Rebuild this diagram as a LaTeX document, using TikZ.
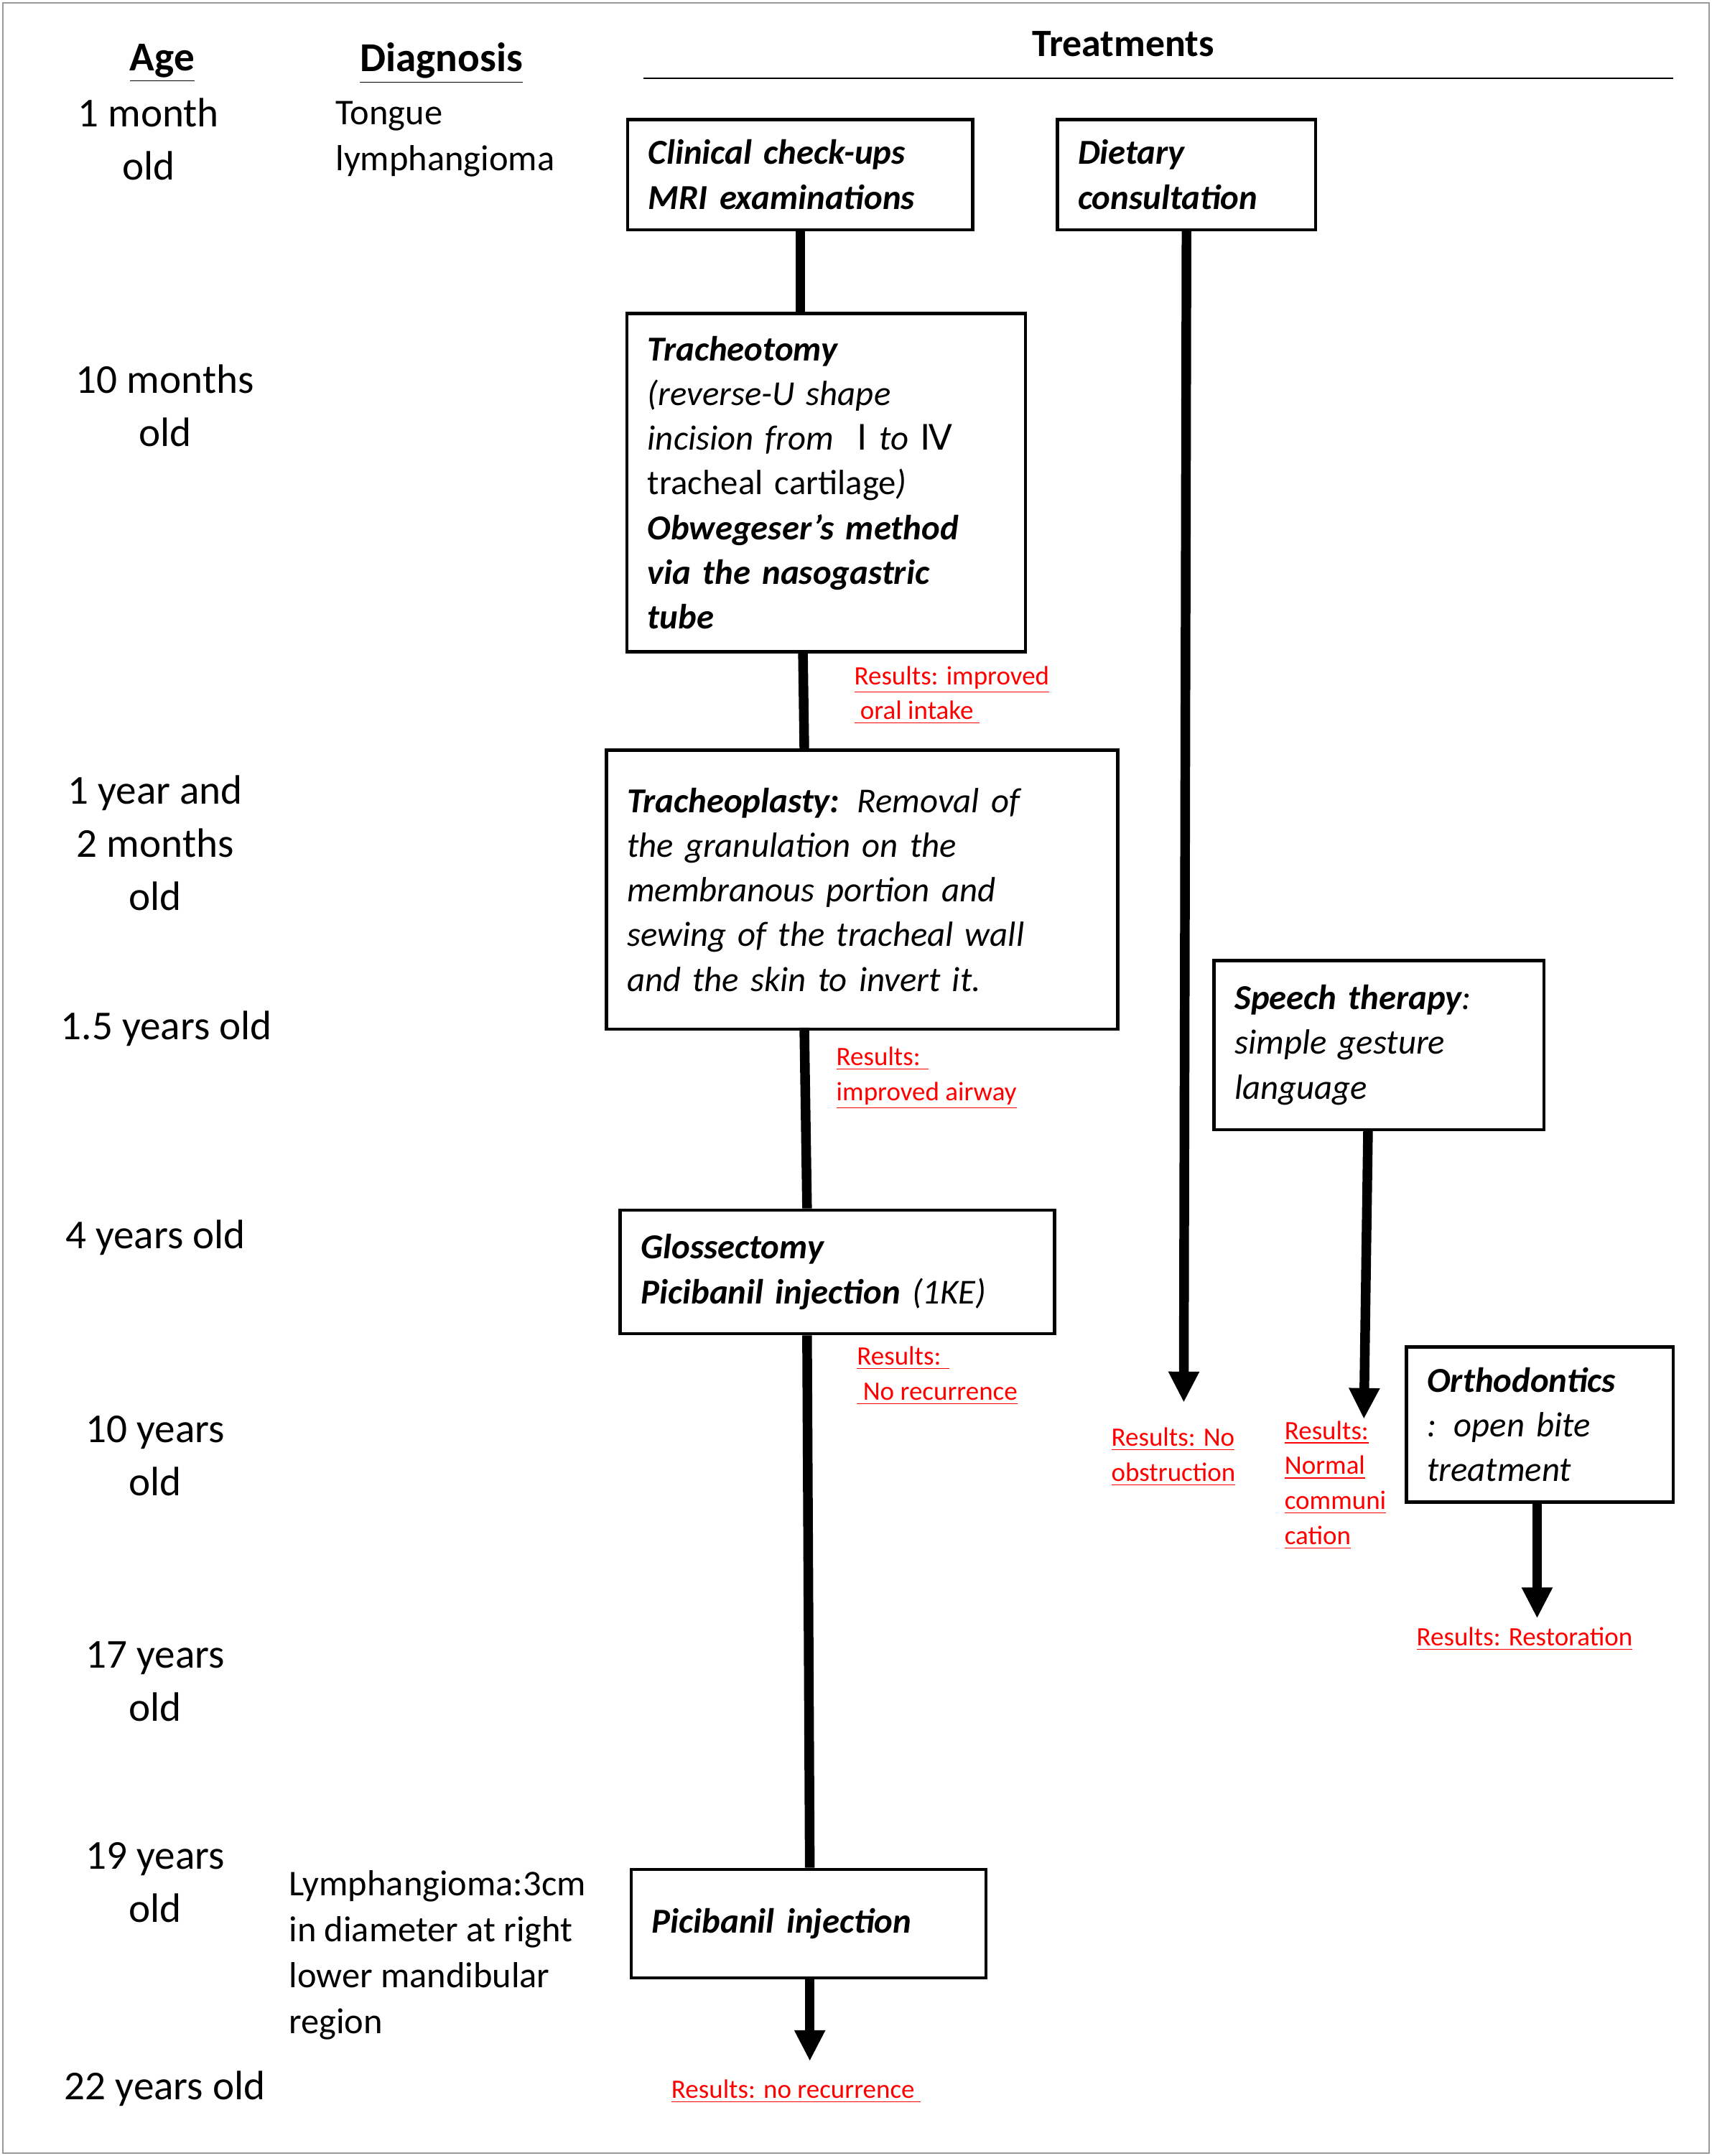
\documentclass[tikz,border=0pt]{standalone}
\usepackage{fontspec}
\setmainfont{Carlito}
\newfontfamily\numfont{DejaVu Sans}
\usetikzlibrary{arrows.meta,positioning}

\begin{document}
\begin{tikzpicture}[x=0.02cm,y=-0.02cm,
    agetext/.style={align=center,font=\fontsize{17}{22}\selectfont},
    diagtext/.style={align=left,anchor=west,font=\fontsize{15}{19}\selectfont},
    tbox/.style={draw,line width=1.3pt,align=left,inner xsep=0.3cm,font=\fontsize{14.5}{18.5}\selectfont\itshape},
    restext/.style={anchor=north west,align=left,text=red,inner sep=0pt,font=\fontsize{11}{14.5}\selectfont},
    spine/.style={line width=4pt},
    arr/.style={line width=4pt,-{Triangle[length=0.45cm,width=0.42cm]}}]

  %% frame
  \draw[black!40,line width=.6pt] (2,2) rectangle (1243,1566);
  \useasboundingbox (0,0) rectangle (1245,1568);

  %% headers
  \node[font=\fontsize{17}{22}\selectfont\bfseries] (hage) at (118,46) {\underline{Age}};
  \node[font=\fontsize{17}{22}\selectfont\bfseries] (hdiag) at (321,46) {\underline{Diagnosis}};
  \node[font=\fontsize{16}{20}\selectfont\bfseries] (htreat) at (817,32) {Treatments};
  \coordinate (tl) at (468,57);
  \coordinate (tr) at (1217,57);
  \draw[line width=.8pt] (tl) -- (tr);

  %% ages
  \node[agetext] (a1) at (108,101) {1 month\\old};
  \node[agetext] (a2) at (120,295) {10 months\\old};
  \node[agetext] (a3) at (113,613) {1 year and\\2 months\\old};
  \node[agetext] (a4) at (121,748) {1.5 years old};
  \node[agetext] (a5) at (113,900) {4 years old};
  \node[agetext] (a6) at (113,1059) {10 years\\old};
  \node[agetext] (a7) at (113,1223) {17 years\\old};
  \node[agetext] (a8) at (113,1369) {19 years\\old};
  \node[agetext] (a9) at (120,1519) {22 years old};

  %% diagnosis
  \node[diagtext] (d1) at (238,101) {Tongue\\lymphangioma};
  \node[diagtext] (d2) at (204,1422) {Lymphangioma:3cm\\in diameter at right\\lower mandibular\\region};

  %% treatment boxes
  \node[tbox,minimum width=5.02cm,minimum height=1.6cm,text width=4.42cm] (check) at (582,127)
    {\bfseries Clinical check-ups\\MRI examinations};
  \node[tbox,minimum width=3.76cm,minimum height=1.6cm,text width=3.16cm] (diet) at (863,127)
    {\bfseries Dietary\\consultation};
  \node[tbox,minimum width=5.8cm,minimum height=4.92cm,text width=5.2cm] (tracheo) at (601,351)
    {{\bfseries Tracheotomy}\\(reverse-U shape\\incision from \ {\numfont\upshape Ⅰ} to {\numfont\upshape Ⅳ}\\{\upshape tracheal cartilage})\\
     \bfseries Obwegeser's method\\\bfseries via the nasogastric\\\bfseries tube};
  \node[tbox,minimum width=7.44cm,minimum height=4.06cm,text width=6.84cm] (plasty) at (627,647)
    {{\bfseries Tracheoplasty:} Removal of\\the granulation on the\\membranous portion and\\sewing of the tracheal wall\\and the skin to invert it.};
  \node[tbox,minimum width=4.8cm,minimum height=2.46cm,text width=4.2cm] (speech) at (1003,760)
    {{\bfseries Speech therapy}:\\simple gesture\\language};
  \node[tbox,minimum width=6.32cm,minimum height=1.8cm,text width=5.72cm] (gloss) at (609,925)
    {\bfseries Glossectomy\\\bfseries Picibanil injection {\mdseries (1KE)}};
  \node[tbox,minimum width=3.88cm,minimum height=2.26cm,text width=3.28cm] (ortho) at (1120,1036)
    {{\bfseries Orthodontics}\\: open bite\\treatment};
  \node[tbox,minimum width=5.16cm,minimum height=1.58cm,text width=4.56cm] (pici) at (588,1399)
    {\bfseries Picibanil injection};

  %% arrow ends
  \coordinate (dietend) at (861,1020);
  \coordinate (speechend) at (992,1032);
  \coordinate (orthoend) at (1118,1177);
  \coordinate (piciend) at (589,1499);

  %% connectors
  \draw[spine] (check.south) -- (check.south |- tracheo.north);
  \draw[spine] ([xshift=-0.34cm]tracheo.south) -- (plasty.north -| 585,0);
  \draw[spine] (plasty.north -| 585,0) ++(0,203) -- (gloss.north -| 587,0);
  \draw[spine] (gloss.south -| 587,0) -- (pici.north -| 589,0);
  \draw[arr] (pici.south -| piciend) -- (piciend);
  \draw[arr] (diet.south) -- (dietend);
  \draw[arr] (speech.south -| 995,0) -- (speechend);
  \draw[arr] (ortho.south -| orthoend) -- (orthoend);

  %% results
  \node[restext] (r1) at (621,484) {\underline{Results: improved}\\\underline{ oral intake }};
  \node[restext] (r2) at (608,761) {\underline{Results: }\\\underline{improved airway}};
  \node[restext] (r3) at (623,979) {\underline{Results: }\\\underline{ No recurrence}};
  \node[restext] (r4) at (808,1038) {\underline{Results: No}\\\underline{obstruction}};
  \node[restext] (r5) at (934,1033) {\underline{Results:}\\\underline{Normal}\\\underline{communi}\\\underline{cation}};
  \node[restext] (r6) at (1030,1183) {\underline{Results: Restoration}};
  \node[restext] (r7) at (488,1512) {\underline{Results: no recurrence }};

\end{tikzpicture}
\end{document}
